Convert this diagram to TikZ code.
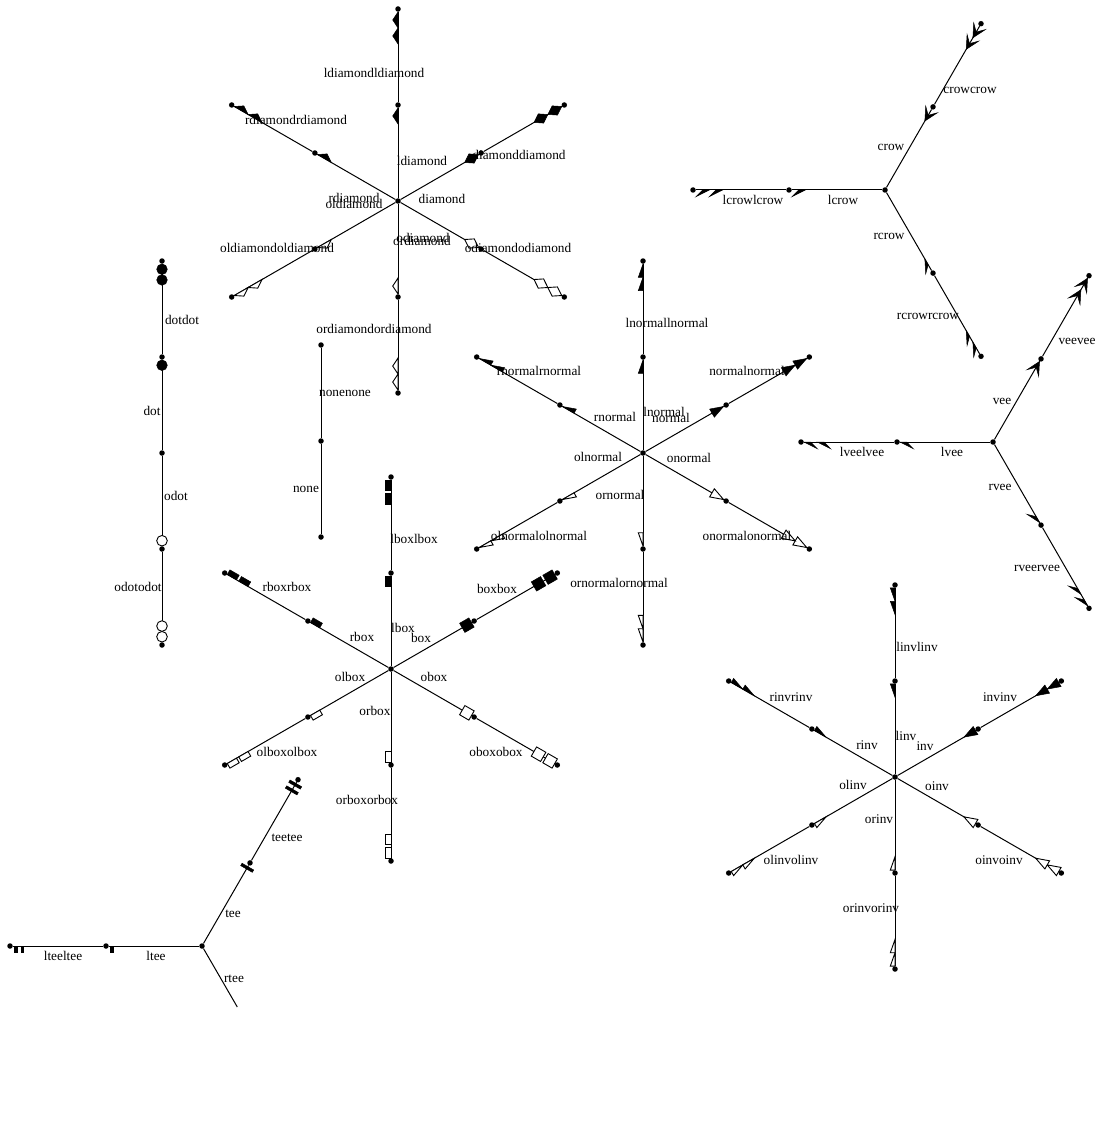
\documentclass[tikz,border=0pt]{standalone}
\usepackage{fontspec}
\setmainfont{Liberation Serif}
\usetikzlibrary{decorations.markings}
\tikzset{
  pt/.style={circle,fill=black,inner sep=0pt,minimum size=5.5pt},
  ed/.style={draw=black,line width=1pt},
  hd/.style={postaction={decorate,decoration={markings,mark=at position 0.9999 with {#1}}}},
  fl/.style={fill=black,draw=black,line width=0.5pt,line join=miter},
  op/.style={fill=white,draw=black,line width=0.9pt,line join=miter},
  lab/.style={inner sep=0pt,font=\fontsize{13.3}{14}\selectfont},
}
% arrow shapes: tip at origin, pointing to +x; "h" = left half (+y)
\newcommand\Nf[1]{\path[#1] (0pt,0pt) -- (-13.3pt,4.7pt) -- (-13.3pt,-4.7pt) -- cycle;}
\newcommand\Nh[1]{\path[#1] (0pt,0pt) -- (-13.3pt,4.7pt) -- (-13.3pt,0pt) -- cycle;}
\newcommand\If[1]{\path[#1] (0pt,4.7pt) -- (-13.3pt,0pt) -- (0pt,-4.7pt) -- cycle;}
\newcommand\Ih[1]{\path[#1] (0pt,0pt) -- (0pt,4.7pt) -- (-13.3pt,0pt) -- cycle;}
\newcommand\Df[1]{\path[#1] (0pt,0pt) -- (-8pt,5.3pt) -- (-16pt,0pt) -- (-8pt,-5.3pt) -- cycle;}
\newcommand\Dh[1]{\path[#1] (0pt,0pt) -- (-8pt,5.3pt) -- (-16pt,0pt) -- cycle;}
\newcommand\Bf[1]{\path[#1] (0pt,-5.3pt) rectangle (-10.7pt,5.3pt);}
\newcommand\Bh[1]{\path[#1] (0pt,0pt) rectangle (-10.7pt,5.3pt);}
\newcommand\Of[1]{\path[#1] (-5.3pt,0pt) circle[radius=5.3pt];}
\newcommand\Tf[1]{\path[#1] (-1.3pt,-6.7pt) rectangle (-4pt,6.7pt);}
\newcommand\Th[1]{\path[#1] (-1.3pt,0pt) rectangle (-4pt,6.7pt);}
\newcommand\Vf[1]{\path[#1] (0pt,0pt) -- (-13.3pt,6.7pt) -- (-6.7pt,0pt) -- (-13.3pt,-6.7pt) -- cycle;}
\newcommand\Vh[1]{\path[#1] (0pt,0pt) -- (-13.3pt,6.7pt) -- (-6.7pt,0pt) -- cycle;}
\newcommand\Cf[1]{\path[#1] (-13.3pt,0pt) -- (0pt,6.7pt) -- (-6.7pt,0pt) -- (0pt,-6.7pt) -- cycle;}
\newcommand\Ch[1]{\path[#1] (-13.3pt,0pt) -- (0pt,6.7pt) -- (-6.7pt,0pt) -- cycle;}
\begin{document}
\begin{tikzpicture}[x=1pt,y=-1pt]
\fill[white] (0,0) rectangle (1102,1123);
\useasboundingbox (0,0) rectangle (1102,1123);

% ===== diamond star =====
\node[pt] (dc) at (398,201) {};
\node[pt] (du1) at (398,105) {};   \node[pt] (du2) at (398,9) {};
\node[pt] (dR1) at (481.1,153) {}; \node[pt] (dR2) at (564.3,105) {};
\node[pt] (dL1) at (314.9,153) {}; \node[pt] (dL2) at (231.7,105) {};
\node[pt] (dl1) at (314.9,249) {}; \node[pt] (dl2) at (231.7,297) {};
\node[pt] (dr1) at (481.1,249) {}; \node[pt] (dr2) at (564.3,297) {};
\node[pt] (dd1) at (398,297) {};   \node[pt] (dd2) at (398,393) {};
\draw[ed,hd={\Dh{fl}}] (dc) -- (du1);
\draw[ed,hd={\Dh{fl}\Dh{fl,xshift=-16pt}}] (du1) -- (du2);
\draw[ed,hd={\Df{fl}}] (dc) -- (dR1);
\draw[ed,hd={\Df{fl}\Df{fl,xshift=-16pt}}] (dR1) -- (dR2);
\draw[ed,hd={\Dh{fl,yscale=-1}}] (dc) -- (dL1);
\draw[ed,hd={\Dh{fl,yscale=-1}\Dh{fl,yscale=-1,xshift=-16pt}}] (dL1) -- (dL2);
\draw[ed,hd={\Dh{op}}] (dc) -- (dl1);
\draw[ed,hd={\Dh{op}\Dh{op,xshift=-16pt}}] (dl1) -- (dl2);
\draw[ed,hd={\Df{op}}] (dc) -- (dr1);
\draw[ed,hd={\Df{op}\Df{op,xshift=-16pt}}] (dr1) -- (dr2);
\draw[ed,hd={\Dh{op,yscale=-1}}] (dc) -- (dd1);
\draw[ed,hd={\Dh{op,yscale=-1}\Dh{op,yscale=-1,xshift=-16pt}}] (dd1) -- (dd2);
\node[lab] (tdu2) at (374,73) {ldiamondldiamond};
\node[lab] (tdL2) at (296,120) {rdiamondrdiamond};
\node[lab] (tdu1) at (422,161) {ldiamond};
\node[lab] (tdR2) at (519,155) {diamonddiamond};
\node[lab] (tdL1) at (354,198) {rdiamond};
\node[lab] (tdl1) at (354,204) {oldiamond};
\node[lab] (tdR1) at (442,199) {diamond};
\node[lab] (tdr1) at (423,238) {odiamond};
\node[lab] (tdd1) at (422,241) {ordiamond};
\node[lab] (tdl2) at (277,248) {oldiamondoldiamond};
\node[lab] (tdr2) at (518,248) {odiamondodiamond};
\node[lab] (tdd2) at (374,329) {ordiamondordiamond};

% ===== normal star =====
\node[pt] (nc) at (643,453) {};
\node[pt] (nu1) at (643,357) {};   \node[pt] (nu2) at (643,261) {};
\node[pt] (nR1) at (726.1,405) {}; \node[pt] (nR2) at (809.3,357) {};
\node[pt] (nL1) at (559.9,405) {}; \node[pt] (nL2) at (476.7,357) {};
\node[pt] (nl1) at (559.9,501) {}; \node[pt] (nl2) at (476.7,549) {};
\node[pt] (nr1) at (726.1,501) {}; \node[pt] (nr2) at (809.3,549) {};
\node[pt] (nd1) at (643,549) {};   \node[pt] (nd2) at (643,645) {};
\draw[ed,hd={\Nh{fl}}] (nc) -- (nu1);
\draw[ed,hd={\Nh{fl}\Nh{fl,xshift=-13.3pt}}] (nu1) -- (nu2);
\draw[ed,hd={\Nf{fl}}] (nc) -- (nR1);
\draw[ed,hd={\Nf{fl}\Nf{fl,xshift=-13.3pt}}] (nR1) -- (nR2);
\draw[ed,hd={\Nh{fl,yscale=-1}}] (nc) -- (nL1);
\draw[ed,hd={\Nh{fl,yscale=-1}\Nh{fl,yscale=-1,xshift=-13.3pt}}] (nL1) -- (nL2);
\draw[ed,hd={\Nh{op}}] (nc) -- (nl1);
\draw[ed,hd={\Nh{op}\Nh{op,xshift=-13.3pt}}] (nl1) -- (nl2);
\draw[ed,hd={\Nf{op}}] (nc) -- (nr1);
\draw[ed,hd={\Nf{op}\Nf{op,xshift=-13.3pt}}] (nr1) -- (nr2);
\draw[ed,hd={\Nh{op,yscale=-1}}] (nc) -- (nd1);
\draw[ed,hd={\Nh{op,yscale=-1}\Nh{op,yscale=-1,xshift=-13.3pt}}] (nd1) -- (nd2);
\node[lab] (tnu2) at (667,323) {lnormallnormal};
\node[lab] (tnL2) at (539,371) {rnormalrnormal};
\node[lab] (tnR2) at (747,371) {normalnormal};
\node[lab] (tnL1) at (615,417) {rnormal};
\node[lab] (tnu1) at (664,412) {lnormal};
\node[lab] (tnR1) at (671,418) {normal};
\node[lab] (tnl1) at (598,457) {olnormal};
\node[lab] (tnr1) at (689,458) {onormal};
\node[lab] (tnd1) at (620,495) {ornormal};
\node[lab] (tnl2) at (539,536) {olnormalolnormal};
\node[lab] (tnr2) at (747,536) {onormalonormal};
\node[lab] (tnd2) at (619,583) {ornormalornormal};

% ===== box star =====
\node[pt] (bc) at (391,669) {};
\node[pt] (bu1) at (391,573) {};   \node[pt] (bu2) at (391,477) {};
\node[pt] (bR1) at (474.1,621) {}; \node[pt] (bR2) at (557.3,573) {};
\node[pt] (bL1) at (307.9,621) {}; \node[pt] (bL2) at (224.7,573) {};
\node[pt] (bl1) at (307.9,717) {}; \node[pt] (bl2) at (224.7,765) {};
\node[pt] (br1) at (474.1,717) {}; \node[pt] (br2) at (557.3,765) {};
\node[pt] (bd1) at (391,765) {};   \node[pt] (bd2) at (391,861) {};
\draw[ed,hd={\Bh{fl}}] (bc) -- (bu1);
\draw[ed,hd={\Bh{fl}\Bh{fl,xshift=-13.3pt}}] (bu1) -- (bu2);
\draw[ed,hd={\Bf{fl}}] (bc) -- (bR1);
\draw[ed,hd={\Bf{fl}\Bf{fl,xshift=-13.3pt}}] (bR1) -- (bR2);
\draw[ed,hd={\Bh{fl,yscale=-1}}] (bc) -- (bL1);
\draw[ed,hd={\Bh{fl,yscale=-1}\Bh{fl,yscale=-1,xshift=-13.3pt}}] (bL1) -- (bL2);
\draw[ed,hd={\Bh{op}}] (bc) -- (bl1);
\draw[ed,hd={\Bh{op}\Bh{op,xshift=-13.3pt}}] (bl1) -- (bl2);
\draw[ed,hd={\Bf{op}}] (bc) -- (br1);
\draw[ed,hd={\Bf{op}\Bf{op,xshift=-13.3pt}}] (br1) -- (br2);
\draw[ed,hd={\Bh{op,yscale=-1}}] (bc) -- (bd1);
\draw[ed,hd={\Bh{op,yscale=-1}\Bh{op,yscale=-1,xshift=-13.3pt}}] (bd1) -- (bd2);
\node[lab] (tbu2) at (414,539) {lboxlbox};
\node[lab] (tbL2) at (287,587) {rboxrbox};
\node[lab] (tbR2) at (497,589) {boxbox};
\node[lab] (tbu1) at (403,628) {lbox};
\node[lab] (tbR1) at (421,638) {box};
\node[lab] (tbL1) at (362,637) {rbox};
\node[lab] (tbl1) at (350,677) {olbox};
\node[lab] (tbr1) at (434,677) {obox};
\node[lab] (tbd1) at (375,711) {orbox};
\node[lab] (tbl2) at (287,752) {olboxolbox};
\node[lab] (tbr2) at (496,752) {oboxobox};
\node[lab] (tbd2) at (367,800) {orboxorbox};

% ===== inv star =====
\node[pt] (ic) at (895,777) {};
\node[pt] (iu1) at (895,681) {};   \node[pt] (iu2) at (895,585) {};
\node[pt] (iR1) at (978.1,729) {}; \node[pt] (iR2) at (1061.3,681) {};
\node[pt] (iL1) at (811.9,729) {}; \node[pt] (iL2) at (728.7,681) {};
\node[pt] (il1) at (811.9,825) {}; \node[pt] (il2) at (728.7,873) {};
\node[pt] (ir1) at (978.1,825) {}; \node[pt] (ir2) at (1061.3,873) {};
\node[pt] (id1) at (895,873) {};   \node[pt] (id2) at (895,969) {};
\draw[ed,hd={\Ih{fl}}] (ic) -- (iu1);
\draw[ed,hd={\Ih{fl}\Ih{fl,xshift=-13.3pt}}] (iu1) -- (iu2);
\draw[ed,hd={\If{fl}}] (ic) -- (iR1);
\draw[ed,hd={\If{fl}\If{fl,xshift=-13.3pt}}] (iR1) -- (iR2);
\draw[ed,hd={\Ih{fl,yscale=-1}}] (ic) -- (iL1);
\draw[ed,hd={\Ih{fl,yscale=-1}\Ih{fl,yscale=-1,xshift=-13.3pt}}] (iL1) -- (iL2);
\draw[ed,hd={\Ih{op}}] (ic) -- (il1);
\draw[ed,hd={\Ih{op}\Ih{op,xshift=-13.3pt}}] (il1) -- (il2);
\draw[ed,hd={\If{op}}] (ic) -- (ir1);
\draw[ed,hd={\If{op}\If{op,xshift=-13.3pt}}] (ir1) -- (ir2);
\draw[ed,hd={\Ih{op,yscale=-1}}] (ic) -- (id1);
\draw[ed,hd={\Ih{op,yscale=-1}\Ih{op,yscale=-1,xshift=-13.3pt}}] (id1) -- (id2);
\node[lab] (tiu2) at (917,647) {linvlinv};
\node[lab] (tiL2) at (791,697) {rinvrinv};
\node[lab] (tiR2) at (1000,697) {invinv};
\node[lab] (tiu1) at (906,736) {linv};
\node[lab] (tiR1) at (925,746) {inv};
\node[lab] (tiL1) at (867,745) {rinv};
\node[lab] (til1) at (853,785) {olinv};
\node[lab] (tir1) at (937,786) {oinv};
\node[lab] (tid1) at (879,819) {orinv};
\node[lab] (til2) at (791,860) {olinvolinv};
\node[lab] (tir2) at (999,860) {oinvoinv};
\node[lab] (tid2) at (871,908) {orinvorinv};

% ===== crow star =====
\node[pt] (cc) at (885,190) {};
\node[pt] (cu1) at (933,106.9) {}; \node[pt] (cu2) at (981,23.7) {};
\node[pt] (cl1) at (789,190) {};   \node[pt] (cl2) at (693,190) {};
\node[pt] (cr1) at (933,273.1) {}; \node[pt] (cr2) at (981,356.3) {};
\draw[ed,hd={\Cf{fl}}] (cc) -- (cu1);
\draw[ed,hd={\Cf{fl}\Cf{fl,xshift=-13.3pt}}] (cu1) -- (cu2);
\draw[ed,hd={\Ch{fl}}] (cc) -- (cl1);
\draw[ed,hd={\Ch{fl}\Ch{fl,xshift=-13.3pt}}] (cl1) -- (cl2);
\draw[ed,hd={\Ch{fl,yscale=-1}}] (cc) -- (cr1);
\draw[ed,hd={\Ch{fl,yscale=-1}\Ch{fl,yscale=-1,xshift=-13.3pt}}] (cr1) -- (cr2);
\node[lab] (tcu2) at (970,90) {crowcrow};
\node[lab] (tcu1) at (891,147) {crow};
\node[lab] (tcl2) at (753,200) {lcrowlcrow};
\node[lab] (tcl1) at (843,200) {lcrow};
\node[lab] (tcr1) at (889,236) {rcrow};
\node[lab] (tcr2) at (928,316) {rcrowrcrow};

% ===== vee star =====
\node[pt] (vc) at (993,442) {};
\node[pt] (vu1) at (1041,358.9) {}; \node[pt] (vu2) at (1089,275.7) {};
\node[pt] (vl1) at (897,442) {};    \node[pt] (vl2) at (801,442) {};
\node[pt] (vr1) at (1041,525.1) {}; \node[pt] (vr2) at (1089,608.3) {};
\draw[ed,hd={\Vf{fl}}] (vc) -- (vu1);
\draw[ed,hd={\Vf{fl}\Vf{fl,xshift=-13.3pt}}] (vu1) -- (vu2);
\draw[ed,hd={\Vh{fl}}] (vc) -- (vl1);
\draw[ed,hd={\Vh{fl}\Vh{fl,xshift=-13.3pt}}] (vl1) -- (vl2);
\draw[ed,hd={\Vh{fl,yscale=-1}}] (vc) -- (vr1);
\draw[ed,hd={\Vh{fl,yscale=-1}\Vh{fl,yscale=-1,xshift=-13.3pt}}] (vr1) -- (vr2);
\node[lab] (tvu2) at (1077,341) {veevee};
\node[lab] (tvu1) at (1002,401) {vee};
\node[lab] (tvl2) at (862,452) {lveelvee};
\node[lab] (tvl1) at (952,452) {lvee};
\node[lab] (tvr1) at (1000,487) {rvee};
\node[lab] (tvr2) at (1037,568) {rveervee};

% ===== tee star =====
\node[pt] (ec) at (202,946) {};
\node[pt] (eu1) at (250,862.9) {}; \node[pt] (eu2) at (298,779.7) {};
\node[pt] (el1) at (106,946) {};   \node[pt] (el2) at (10,946) {};
\coordinate (erend) at (237.3,1007);
\draw[ed,hd={\Tf{fl}}] (ec) -- (eu1);
\draw[ed,hd={\Tf{fl}\Tf{fl,xshift=-6.7pt}}] (eu1) -- (eu2);
\draw[ed,hd={\Th{fl}}] (ec) -- (el1);
\draw[ed,hd={\Th{fl}\Th{fl,xshift=-6.7pt}}] (el1) -- (el2);
\draw[ed] (ec) -- (erend);
\node[lab] (teu2) at (287,838) {teetee};
\node[lab] (teu1) at (233,914) {tee};
\node[lab] (tel2) at (63,956) {lteeltee};
\node[lab] (tel1) at (156,956) {ltee};
\node[lab] (ter1) at (234,979) {rtee};

% ===== dot column =====
\node[pt] (oc) at (162,453) {};
\node[pt] (ou1) at (162,357) {}; \node[pt] (ou2) at (162,261) {};
\node[pt] (od1) at (162,549) {}; \node[pt] (od2) at (162,645) {};
\draw[ed,hd={\Of{fl}}] (oc) -- (ou1);
\draw[ed,hd={\Of{fl}\Of{fl,xshift=-10.7pt}}] (ou1) -- (ou2);
\draw[ed,hd={\Of{op}}] (oc) -- (od1);
\draw[ed,hd={\Of{op}\Of{op,xshift=-10.7pt}}] (od1) -- (od2);
\node[lab] (tou2) at (182,320) {dotdot};
\node[lab] (tou1) at (152,411) {dot};
\node[lab] (tod1) at (176,496) {odot};
\node[lab] (tod2) at (138,587) {odotodot};

% ===== none column =====
\node[pt] (xc) at (321,537) {};
\node[pt] (x1) at (321,441) {};
\node[pt] (x2) at (321,345) {};
\draw[ed] (xc) -- (x1);
\draw[ed] (x1) -- (x2);
\node[lab] (tx1) at (306,489) {none};
\node[lab] (tx2) at (345,393) {nonenone};
\end{tikzpicture}
\end{document}
